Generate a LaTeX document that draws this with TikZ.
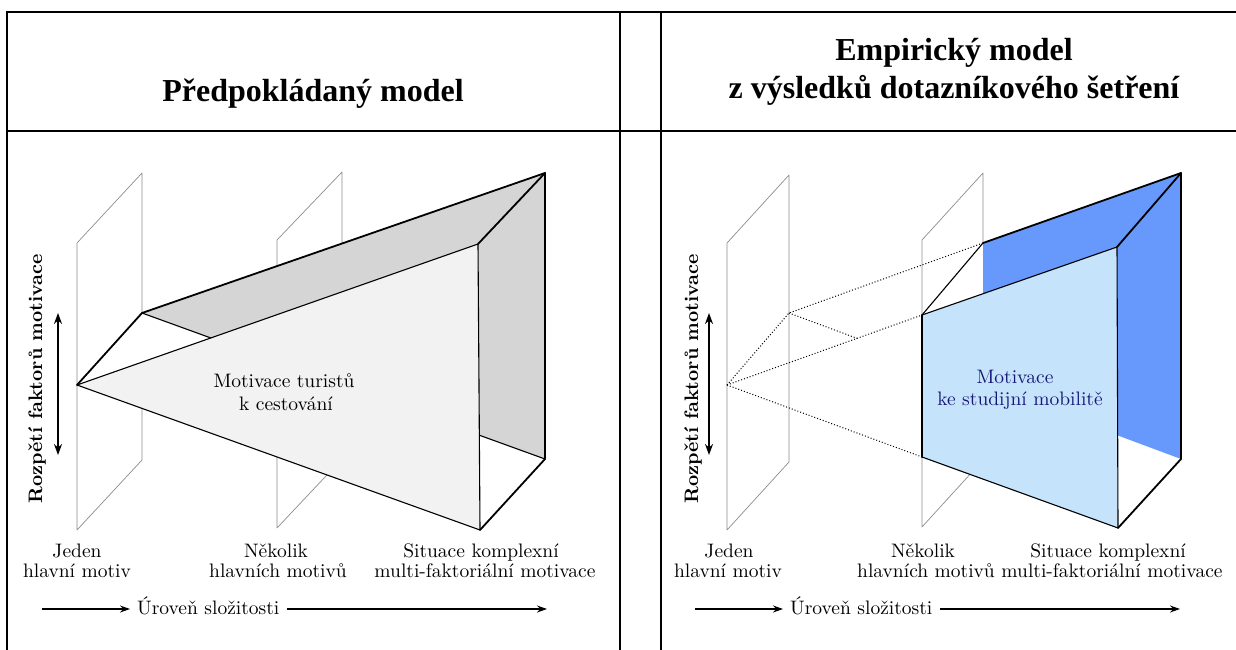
\documentclass[tikz,border=0pt]{standalone}
\usepackage{fontspec}
\setmainfont{lmroman10}[Extension=.otf,UprightFont=*-regular,BoldFont=*-bold,ItalicFont=*-italic,BoldItalicFont=*-bolditalic]
\newfontfamily\titlefont{Liberation Serif}
\usetikzlibrary{arrows.meta}
\definecolor{frontgray}{HTML}{F2F2F2}
\definecolor{backgray}{HTML}{D5D5D5}
\definecolor{lightblue}{HTML}{C5E3FB}
\definecolor{darkblue}{HTML}{6699FB}
\definecolor{navytext}{HTML}{18187A}
\definecolor{planegray}{HTML}{8C8C8C}
\begin{document}
\begin{tikzpicture}[x=1pt,y=-1pt,
  frame/.style={line width=2pt},
  plane/.style={draw=planegray,line width=0.7pt,line join=round},
  edgethick/.style={line width=1.8pt,line join=round,line cap=round},
  edgemid/.style={line width=1.1pt,line join=round,line cap=round},
  hidden/.style={line width=1pt,dotted},
  lbl/.style={font=\fontsize{19.5}{20.5}\selectfont,inner sep=0pt,anchor=base},
  rotlbl/.style={font=\bfseries\fontsize{19.5}{20.5}\selectfont,inner sep=0pt,rotate=90},
  ttl/.style={font=\titlefont\bfseries\fontsize{32}{38}\selectfont,inner sep=0pt,anchor=base},
  axisarrow/.style={line width=1.3pt,-{Stealth[length=10pt,width=7pt]}},
  spanarrow/.style={line width=2pt,{Stealth[length=11pt,width=8pt]}-{Stealth[length=11pt,width=8pt]}},
]
\useasboundingbox (0,0) rectangle (1236,650);
% ---------------- table frame
\coordinate (t1) at (7,12);
\coordinate (t2) at (1240,12);
\coordinate (h1) at (7,131);
\coordinate (h2) at (1240,131);
\coordinate (v1) at (620,12);
\coordinate (v1b) at (620,652);
\coordinate (v2) at (661,12);
\coordinate (v2b) at (661,652);
\coordinate (lb) at (7,652);
\draw[frame] (lb) -- (t1) -- (t2);
\draw[frame] (h1) -- (h2);
\draw[frame] (v1) -- (v1b);
\draw[frame] (v2) -- (v2b);
% ---------------- titles
\node[ttl] (title1) at (313,102) {Předpokládaný model};
\node[ttl] (title2a) at (954,61) {Empirický model};
\node[ttl] (title2b) at (954,99) {z výsledků dotazníkového šetření};

% ================= LEFT DIAGRAM
\coordinate (lp1) at (77,243);  \coordinate (lp2) at (142,173);
\coordinate (lp3) at (142,460); \coordinate (lp4) at (77,530);
\coordinate (mp1) at (277,240); \coordinate (mp2) at (342,172);
\coordinate (mp3) at (342,459); \coordinate (mp4) at (277,528);
\draw[plane] (lp1) -- (lp2) -- (lp3) -- (lp4) -- cycle;
\draw[plane] (mp1) -- (mp2) -- (mp3) -- (mp4) -- cycle;
\coordinate (A) at (77,385);
\coordinate (F) at (142,313);
\coordinate (FT) at (478,244);
\coordinate (FB) at (480,530);
\coordinate (BT) at (545,173);
\coordinate (BB) at (545,459);
\coordinate (P1) at (intersection of F--BB and A--FT);
\coordinate (P2) at (intersection of F--BB and FT--FB);
\fill[white] (A) -- (F) -- (BT) -- (BB) -- (FB) -- cycle;
\fill[backgray] (F) -- (BT) -- (BB) -- cycle;
\fill[frontgray] (A) -- (FT) -- (FB) -- cycle;
\draw[edgemid] (A) -- (FT) -- (FB) -- cycle;
\draw[edgemid] (F) -- (P1);
\draw[edgemid] (P2) -- (BB);
\draw[edgethick] (A) -- (F) -- (BT) -- (BB) -- (FB);
\draw[edgethick] (FT) -- (BT);
\node[lbl] (m1a) at (284,387) {Motivace turistů};
\node[lbl] (m1b) at (286,410) {k cestování};
\node[rotlbl] (r1) at (37,379) {Rozpětí faktorů motivace};
\coordinate (s1t) at (58,313);
\coordinate (s1b) at (58,455);
\draw[spanarrow] (s1t) -- (s1b);
\node[lbl] (j1a) at (77,557) {Jeden};
\node[lbl] (j1b) at (77,577) {hlavní motiv};
\node[lbl] (k1a) at (276,557) {Několik};
\node[lbl] (k1b) at (278,577) {hlavních motivů};
\node[lbl] (c1a) at (481,557) {Situace komplexní};
\node[lbl] (c1b) at (485,577) {multi-faktoriální motivace};
\coordinate (a1s) at (42,609);
\node[lbl,anchor=base west] (u1) at (137,614) {Úroveň složitosti};
\coordinate (a1e) at (547,609);
\draw[axisarrow] (a1s) -- ([xshift=-7pt]u1.west |- a1s);
\draw[axisarrow] ([xshift=7pt]u1.east |- a1e) -- (a1e);

% ================= RIGHT DIAGRAM
\coordinate (rp1) at (727,243);  \coordinate (rp2) at (789,175);
\coordinate (rp3) at (789,462);  \coordinate (rp4) at (727,530);
\coordinate (sp1) at (922,240);  \coordinate (sp2) at (983,173);
\coordinate (sp3) at (983,460);  \coordinate (sp4) at (922,527);
\draw[plane] (rp1) -- (rp2) -- (rp3) -- (rp4) -- cycle;
\draw[plane] (sp1) -- (sp2) -- (sp3) -- (sp4) -- cycle;
\coordinate (RA) at (727,385);
\coordinate (RF) at (789,313);
\coordinate (RC1) at (922,315);
\coordinate (RC2) at (922,457);
\coordinate (RFT) at (1117,247);
\coordinate (RFB) at (1118,528);
\coordinate (RBT) at (1181,173);
\coordinate (RBB) at (1181,459);
\coordinate (RD1) at (983,243);
\coordinate (RD2) at (intersection of RF--RBB and sp2--sp3);
\coordinate (RQ) at (intersection of RF--RBB and RA--RC1);
\fill[white] (RC1) -- (RD1) -- (RBT) -- (RBB) -- (RFB) -- (RC2) -- cycle;
\fill[darkblue] (RD1) -- (RBT) -- (RBB) -- (RD2) -- cycle;
\fill[lightblue] (RC1) -- (RFT) -- (RFB) -- (RC2) -- cycle;
\draw[edgemid] (RC1) -- (RFT) -- (RFB) -- (RC2);
\draw[edgemid] (RC1) -- (RD1);
\draw[edgethick] (RC2) -- (RC1);
\draw[edgethick] (RD1) -- (RBT) -- (RBB) -- (RFB);
\draw[edgethick] (RFT) -- (RBT);
\draw[hidden] (RA) -- (RC1);
\draw[hidden] (RA) -- (RC2);
\draw[hidden] (RA) -- (RF) -- (RD1);
\draw[hidden] (RF) -- (RQ);
\node[lbl,text=navytext] (m2a) at (1015,383) {Motivace};
\node[lbl,text=navytext] (m2b) at (1020,405) {ke studijní mobilitě};
\node[rotlbl] (r2) at (693,379) {Rozpětí faktorů motivace};
\coordinate (s2t) at (709,313);
\coordinate (s2b) at (709,455);
\draw[spanarrow] (s2t) -- (s2b);
\node[lbl] (j2a) at (729,557) {Jeden};
\node[lbl] (j2b) at (728,577) {hlavní motiv};
\node[lbl] (k2a) at (923,557) {Několik};
\node[lbl] (k2b) at (926,577) {hlavních motivů};
\node[lbl] (c2a) at (1108,557) {Situace komplexní};
\node[lbl] (c2b) at (1112,577) {multi-faktoriální motivace};
\coordinate (a2s) at (695,609);
\node[lbl,anchor=base west] (u2) at (790,614) {Úroveň složitosti};
\coordinate (a2e) at (1180,609);
\draw[axisarrow] (a2s) -- ([xshift=-7pt]u2.west |- a2s);
\draw[axisarrow] ([xshift=7pt]u2.east |- a2e) -- (a2e);
\end{tikzpicture}
\end{document}
